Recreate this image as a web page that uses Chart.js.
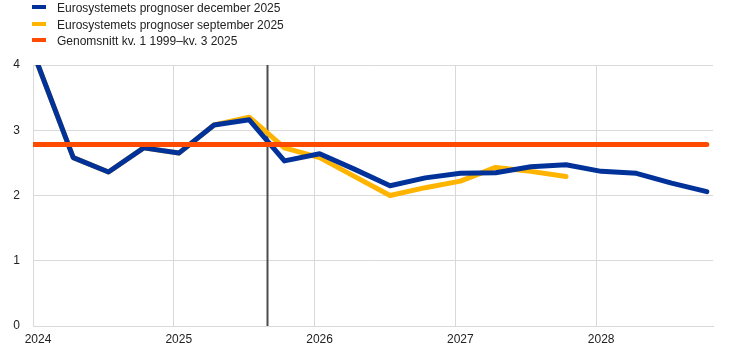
<!DOCTYPE html>
<html>
<head>
<meta charset="utf-8">
<script src="https://cdn.jsdelivr.net/npm/chart.js@4/dist/chart.umd.min.js"></script>
<style>
  html, body { margin: 0; padding: 0; background: #fff; }
  #wrap { position: relative; width: 736px; height: 353px; }
  #c { position: absolute; left: 0; top: 0; }
  #legend { position: absolute; left: 32px; top: 0px; font-family: "Liberation Sans", Arial, sans-serif; font-size: 12px; color: #222; }
  .item { position: relative; height: 16.5px; line-height: 16px; padding-left: 25px; white-space: nowrap; }
  .mk { position: absolute; left: 0; top: 5px; width: 14px; height: 4px; }
</style>
</head>
<body>
<div id="wrap">
  <canvas id="c" width="736" height="353"></canvas>
  <div id="legend"></div>
</div>
<script>
// Quarters 2024 K1 .. 2028 K4
const quarters = ["2024K1","2024K2","2024K3","2024K4","2025K1","2025K2","2025K3","2025K4",
                  "2026K1","2026K2","2026K3","2026K4","2027K1","2027K2","2027K3","2027K4",
                  "2028K1","2028K2","2028K3","2028K4"];
const decemberLabel = "Eurosystemets prognoser december 2025";
const septemberLabel = "Eurosystemets prognoser september 2025";
const averageLabel = "Genomsnitt kv. 1 1999\u2013kv. 3 2025";
const december2025 = [4.0, 2.58, 2.36, 2.73, 2.65, 3.08, 3.16, 2.53, 2.64, 2.40, 2.15, 2.27, 2.34, 2.35, 2.44, 2.47, 2.37, 2.34, 2.19, 2.06];
const september2025 = [4.0, 2.58, 2.36, 2.73, 2.65, 3.08, 3.20, 2.73, 2.58, 2.29, 2.00, 2.12, 2.22, 2.43, 2.37, 2.29];
const average = 2.78;
const yearTicks = [2024, 2025, 2026, 2027, 2028];
const yTicks = [0, 1, 2, 3, 4];
const cutoff = 2025.66; // vertical line position (years)

const blue = "#003299", yellow = "#ffb400", orange = "#ff4b00";
const qx = q => parseInt(q.slice(0,4)) + (parseInt(q.slice(5)) - 1) / 4 + 0.036;
const toPts = arr => arr.map((v, i) => ({x: qx(quarters[i]), y: v}));

const vline = {
  id: 'vline',
  beforeDatasetsDraw(chart) {
    const {ctx, chartArea, scales} = chart;
    const x = Math.round(scales.x.getPixelForValue(cutoff)) + 0.5;
    ctx.save();
    ctx.strokeStyle = "#4d4d4d";
    ctx.lineWidth = 2;
    ctx.beginPath();
    ctx.moveTo(x, chartArea.top);
    ctx.lineTo(x, chartArea.bottom);
    ctx.stroke();
    ctx.restore();
  }
};

const common = { borderWidth: 5, pointRadius: 0, tension: 0, borderJoinStyle: 'round', borderCapStyle: 'round', fill: false };
const datasets = [
  Object.assign({ label: decemberLabel, data: toPts(december2025), borderColor: blue, backgroundColor: blue, order: 1 }, common),
  Object.assign({ label: septemberLabel, data: toPts(september2025), borderColor: yellow, backgroundColor: yellow, order: 2 }, common),
  Object.assign({ label: averageLabel, data: [{x: yearTicks[0], y: average}, {x: qx(quarters[quarters.length-1]), y: average}], borderColor: orange, backgroundColor: orange, order: 0 }, common)
];

// HTML legend
const leg = document.getElementById('legend');
[[decemberLabel, blue],[septemberLabel, yellow],[averageLabel, orange]].forEach(([t, c]) => {
  const d = document.createElement('div'); d.className = 'item';
  const m = document.createElement('span'); m.className = 'mk'; m.style.background = c;
  d.appendChild(m); d.appendChild(document.createTextNode(t)); leg.appendChild(d);
});

const font = { family: '"Liberation Sans", Arial, sans-serif', size: 12 };
new Chart(document.getElementById('c'), {
  type: 'line',
  data: { datasets },
  options: {
    responsive: false,
    animation: false,
    layout: { padding: { top: 65, right: 23, bottom: 0, left: 0 } },
    plugins: { legend: { display: false }, tooltip: { enabled: false } },
    scales: {
      x: {
        type: 'linear', min: 2024, max: 2028.83,
        afterBuildTicks: (s) => { s.ticks = yearTicks.map(v => ({value: v})); },
        afterFit: (s) => { s.height = 27; },
        ticks: { callback: v => String(v), font, color: '#222', padding: 6, labelOffset: 5, maxRotation: 0 },
        grid: { color: '#d9d9d9', lineWidth: 1, drawTicks: false },
        border: { color: '#d9d9d9' }
      },
      y: {
        min: 0, max: 4,
        afterBuildTicks: (s) => { s.ticks = yTicks.map(v => ({value: v})); },
        afterFit: (s) => { s.width = 33; },
        ticks: { font, color: '#222', padding: 13 },
        grid: { color: '#d9d9d9', lineWidth: 1, drawTicks: false },
        border: { color: '#d9d9d9' }
      }
    }
  },
  plugins: [vline]
});
</script>
</body>
</html>
